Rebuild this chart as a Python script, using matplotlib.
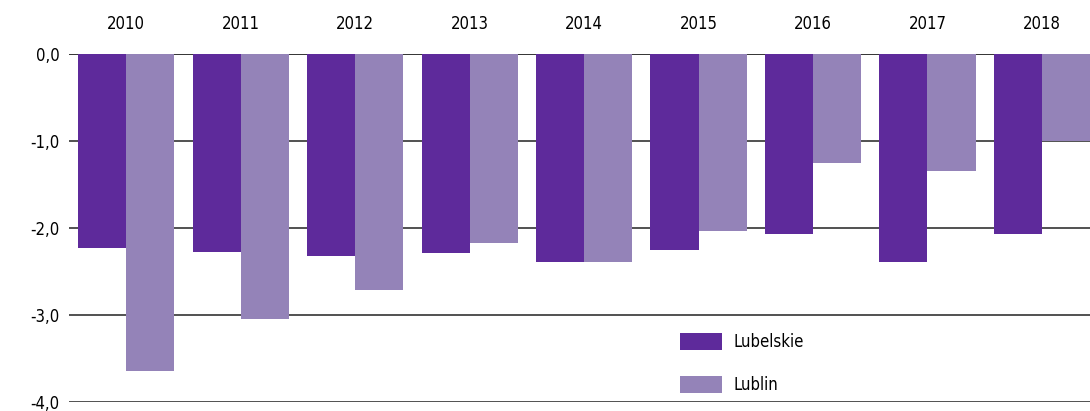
import matplotlib.pyplot as plt
import numpy as np

years = ['2010', '2011', '2012', '2013', '2014', '2015', '2016', '2017', '2018']
lubelskie = [-2.23, -2.28, -2.32, -2.29, -2.39, -2.25, -2.07, -2.39, -2.07]
lublin = [-3.64, -3.05, -2.71, -2.17, -2.39, -2.03, -1.25, -1.35, -1.00]
yticks = [0, -1, -2, -3, -4]

dark = '#5e2a9b'
light = '#9483b8'

plt.rcParams['font.family'] = ['DejaVu Sans']
plt.rcParams['font.stretch'] = 'condensed'

fig = plt.figure(figsize=(10.9, 4.11), dpi=100)
ax = fig.add_axes([69 / 1090, 9 / 411, 1 - 69 / 1090, 348 / 411])

x = np.arange(len(years))
w = 0.42
ax.bar(x - w / 2, lubelskie, w, color=dark, label='Lubelskie', zorder=3)
ax.bar(x + w / 2, lublin, w, color=light, label='Lublin', zorder=3)

ax.set_ylim(-4, 0)
ax.set_xlim(-0.5, 8.42)
ax.set_yticks(yticks)
ax.set_yticklabels([f'{v:.1f}'.replace('.', ',') for v in yticks], fontsize=12)
for v in yticks:
    ax.axhline(v, color='#333333' if v else '#111111', linewidth=1.2, zorder=1)

ax.xaxis.tick_top()
ax.set_xticks(x)
ax.set_xticklabels(years, fontsize=12)
ax.tick_params(axis='x', length=0, pad=15)
ax.tick_params(axis='y', length=0, pad=7)
for s in ax.spines.values():
    s.set_visible(False)

leg = ax.legend(loc='lower left', bbox_to_anchor=(0.584, -0.02), frameon=False,
                fontsize=12, handlelength=2.5, handleheight=1.14,
                labelspacing=1.5, handletextpad=0.7)

fig.savefig('out.png', dpi=100)
